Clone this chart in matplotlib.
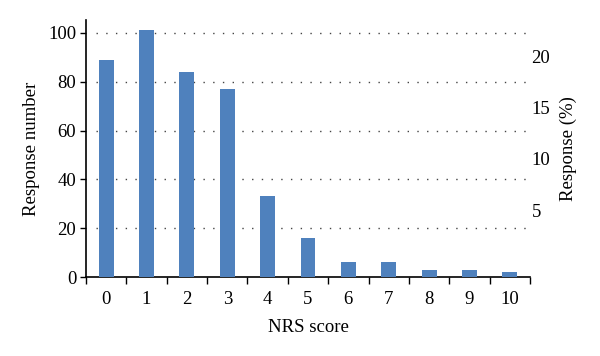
import matplotlib
matplotlib.use("Agg")
import matplotlib.pyplot as plt
import numpy as np

scores = ["0", "1", "2", "3", "4", "5", "6", "7", "8", "9", "10"]
counts = [89, 101, 84, 77, 33, 16, 6, 6, 3, 3, 2]
left_ticks = [0, 20, 40, 60, 80, 100]
right_ticks = [5, 10, 15, 20]

plt.rcParams['font.family'] = ['Liberation Serif', 'DejaVu Serif']
FS = 13.5

fig = plt.figure(figsize=(6, 3.56), dpi=100)
ax = fig.add_axes([86/600, 1-277/356, (530-86)/600, (277-20)/356])

x = np.arange(len(scores))
ax.bar(x, counts, width=0.37, color="#4F81BD", zorder=3)
ax.set_xlim(-0.5, len(scores) - 0.5)
ax.set_ylim(0, 105.3)

ax.set_xticks(np.arange(len(scores) + 1) - 0.5)
ax.set_xticklabels([])
ax.set_xticks(x, minor=True)
ax.set_xticklabels(scores, minor=True, fontsize=FS)
ax.tick_params(axis='x', which='major', direction='out', length=5, width=1, color='black')
ax.tick_params(axis='x', which='minor', length=0, pad=10)

ax.set_yticks(left_ticks)
ax.set_yticklabels([str(v) for v in left_ticks], fontsize=FS)
ax.tick_params(axis='y', direction='out', length=4, width=1, pad=3)

for v in left_ticks[1:]:
    ax.axhline(v, xmin=0.0225, xmax=1.0, color='#444444', linestyle=(0, (1, 6)), linewidth=1.0, zorder=1)

for s in ['top', 'right']:
    ax.spines[s].set_visible(False)
ax.spines['left'].set_linewidth(1.2)
ax.spines['bottom'].set_linewidth(1.2)

ax.set_xlabel("NRS score", fontsize=FS, labelpad=8)
ax.set_ylabel("Response number", fontsize=FS, labelpad=6)

total = sum(counts)
ax2 = ax.twinx()
lo, hi = ax.get_ylim()
# right axis appears offset upward in reference
off = 15.5 / 2.44
ax2.set_ylim((lo - off) / total * 100, (hi - off) / total * 100)
ax2.set_yticks(right_ticks)
ax2.set_yticklabels([str(v) for v in right_ticks], fontsize=FS)
ax2.tick_params(axis='y', length=0, pad=1)
for s in ['top', 'right', 'left', 'bottom']:
    ax2.spines[s].set_visible(False)
ax2.set_ylabel("Response (%)", fontsize=FS, labelpad=7)

fig.savefig("out.png", dpi=100)
